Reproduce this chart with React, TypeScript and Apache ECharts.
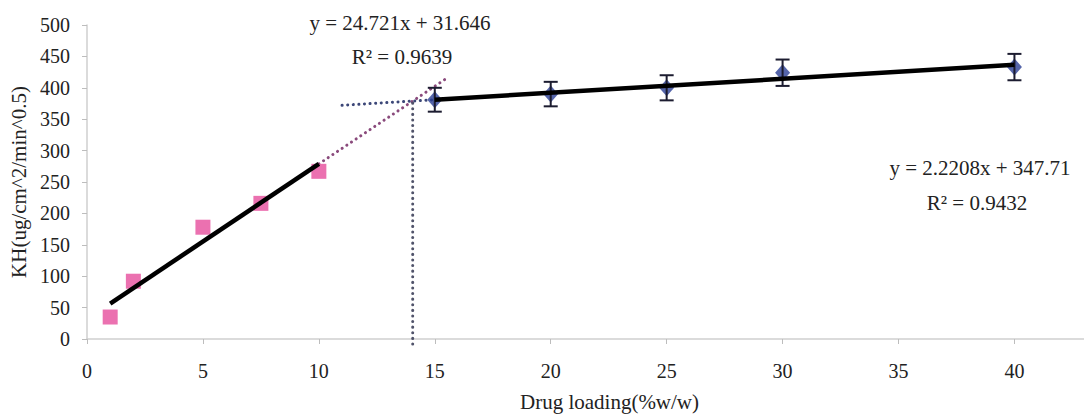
import React, { useEffect, useRef } from "react";
import * as echarts from "echarts";

// Drug loading (% w/w) and KH values, low-loading group (pink squares)
const lowLoading = [1, 2, 5, 7.5, 10];
const lowKH = [35, 92, 178, 216, 267];

// High-loading group (blue diamonds) with standard deviation
const highLoading = [15, 20, 25, 30, 40];
const highKH = [381, 390, 400, 424, 433];
const highSD = [19, 19.5, 20, 21, 21];

// Linear fits: y = slope * x + intercept
const fitLow = { slope: 24.721, intercept: 31.646, r2: "0.9639", from: 1, to: 10, forecastTo: 15.5 };
const fitHigh = { slope: 2.2208, intercept: 347.71, r2: "0.9432", from: 15, to: 40, backcastFrom: 11 };

// x axis runs past the last labelled tick to the right edge
const xTicks = { min: 0, max: 43, step: 5 };
const yTicks = { min: 0, max: 500, step: 50 };

const FONT = "'Liberation Serif', 'DejaVu Serif', serif";

const fit = (f: { slope: number; intercept: number }, x: number) => f.slope * x + f.intercept;

export default function App() {
  const ref = useRef<HTMLDivElement>(null);

  useEffect(() => {
    if (!ref.current) return;
    const chart = echarts.init(ref.current, null, { renderer: "svg" });

    // where the two fitted lines cross
    const xCross = (fitHigh.intercept - fitLow.intercept) / (fitLow.slope - fitHigh.slope);
    const yCross = fit(fitLow, xCross);

    const fitLabel = (f: { slope: number; intercept: number }) =>
      `y = ${f.slope}x + ${f.intercept}`;

    const textStyle = { fontFamily: FONT, fontSize: 21, fill: "#222", align: "center" as const, verticalAlign: "middle" as const };
    const dotted = (color: string) => ({ color, width: 3, type: [0.1, 5.5], cap: "round" as const });

    chart.setOption({
      animation: false,
      backgroundColor: "#ffffff",
      grid: { left: 87, top: 25, bottom: 77, right: 0, containLabel: false },
      xAxis: {
        type: "value",
        min: xTicks.min,
        max: xTicks.max,
        interval: xTicks.step,
        name: "Drug loading(%w/w)",
        nameLocation: "middle",
        nameGap: 52,
        nameTextStyle: { fontFamily: FONT, fontSize: 21, color: "#222", padding: [0, 0, 0, 48] },
        axisLine: { show: true, lineStyle: { color: "#cfcfcf", width: 1.5 } },
        axisTick: { show: true, length: 5, lineStyle: { color: "#bdbdbd" } },
        axisLabel: { margin: 22, fontFamily: FONT, fontSize: 20, color: "#222", showMaxLabel: false },
        splitLine: { show: false },
      },
      yAxis: {
        type: "value",
        min: yTicks.min,
        max: yTicks.max,
        interval: yTicks.step,
        name: "KH(ug/cm^2/min^0.5)",
        nameLocation: "middle",
        nameRotate: 90,
        nameGap: 56,
        nameTextStyle: { fontFamily: FONT, fontSize: 21, color: "#222" },
        axisLine: { show: true, lineStyle: { color: "#cfcfcf", width: 1.5 } },
        axisTick: { show: true, length: 5, lineStyle: { color: "#bdbdbd" } },
        axisLabel: { margin: 17, fontFamily: FONT, fontSize: 20, color: "#222" },
        splitLine: { show: false },
      },
      series: [
        {
          type: "scatter",
          name: "low",
          data: lowLoading.map((x, i) => [x, lowKH[i]]),
          symbol: "rect",
          symbolSize: 15,
          itemStyle: { color: "#e64d9c" },
          z: 3,
        },
        {
          type: "scatter",
          name: "high",
          data: highLoading.map((x, i) => [x, highKH[i]]),
          symbol: "diamond",
          symbolSize: [15, 17],
          itemStyle: { color: "#2a3f95" },
          z: 3,
        },
        {
          type: "custom",
          name: "error",
          data: highLoading.map((x, i) => [x, highKH[i] - highSD[i], highKH[i] + highSD[i]]),
          renderItem: (params: any, api: any) => {
            const x = api.value(0);
            const lo = api.coord([x, api.value(1)]);
            const hi = api.coord([x, api.value(2)]);
            const cap = 7;
            const style = { stroke: "#1c1c30", lineWidth: 2 };
            return {
              type: "group",
              children: [
                { type: "line", shape: { x1: lo[0], y1: lo[1], x2: hi[0], y2: hi[1] }, style },
                { type: "line", shape: { x1: lo[0] - cap, y1: lo[1], x2: lo[0] + cap, y2: lo[1] }, style },
                { type: "line", shape: { x1: hi[0] - cap, y1: hi[1], x2: hi[0] + cap, y2: hi[1] }, style },
              ],
            };
          },
          z: 4,
        },
        {
          type: "line",
          name: "fitLow",
          data: [fitLow.from, fitLow.to].map((x) => [x, fit(fitLow, x)]),
          symbol: "none",
          lineStyle: { color: "#000", width: 4.5 },
          z: 5,
        },
        {
          type: "line",
          name: "fitHigh",
          data: [fitHigh.from, fitHigh.to].map((x) => [x, fit(fitHigh, x)]),
          symbol: "none",
          lineStyle: { color: "#000", width: 4.5 },
          z: 5,
        },
        {
          type: "line",
          name: "forecastLow",
          data: [fitLow.to, fitLow.forecastTo].map((x) => [x, fit(fitLow, x)]),
          symbol: "none",
          lineStyle: dotted("#8a4a7c"),
          z: 2,
        },
        {
          type: "line",
          name: "backcastHigh",
          data: [fitHigh.backcastFrom, fitHigh.from].map((x) => [x, fit(fitHigh, x)]),
          symbol: "none",
          lineStyle: dotted("#3c4778"),
          z: 2,
        },
        {
          type: "line",
          name: "crossing",
          data: [
            [xCross, -8],
            [xCross, yCross],
          ],
          clip: false,
          symbol: "none",
          lineStyle: dotted("#50536a"),
          z: 2,
        },
      ],
      graphic: [
        { type: "text", x: 400, y: 23, style: { ...textStyle, text: fitLabel(fitLow) } },
        { type: "text", x: 402, y: 57, style: { ...textStyle, text: `R² = ${fitLow.r2}` } },
        { type: "text", x: 980, y: 168, style: { ...textStyle, text: fitLabel(fitHigh) } },
        { type: "text", x: 977, y: 203, style: { ...textStyle, text: `R² = ${fitHigh.r2}` } },
      ],
    });

    return () => chart.dispose();
  }, []);

  return (
    <div
      ref={ref}
      style={{ position: "absolute", left: 0, top: 0, width: 1084, height: 417, background: "#fff" }}
    />
  );
}
